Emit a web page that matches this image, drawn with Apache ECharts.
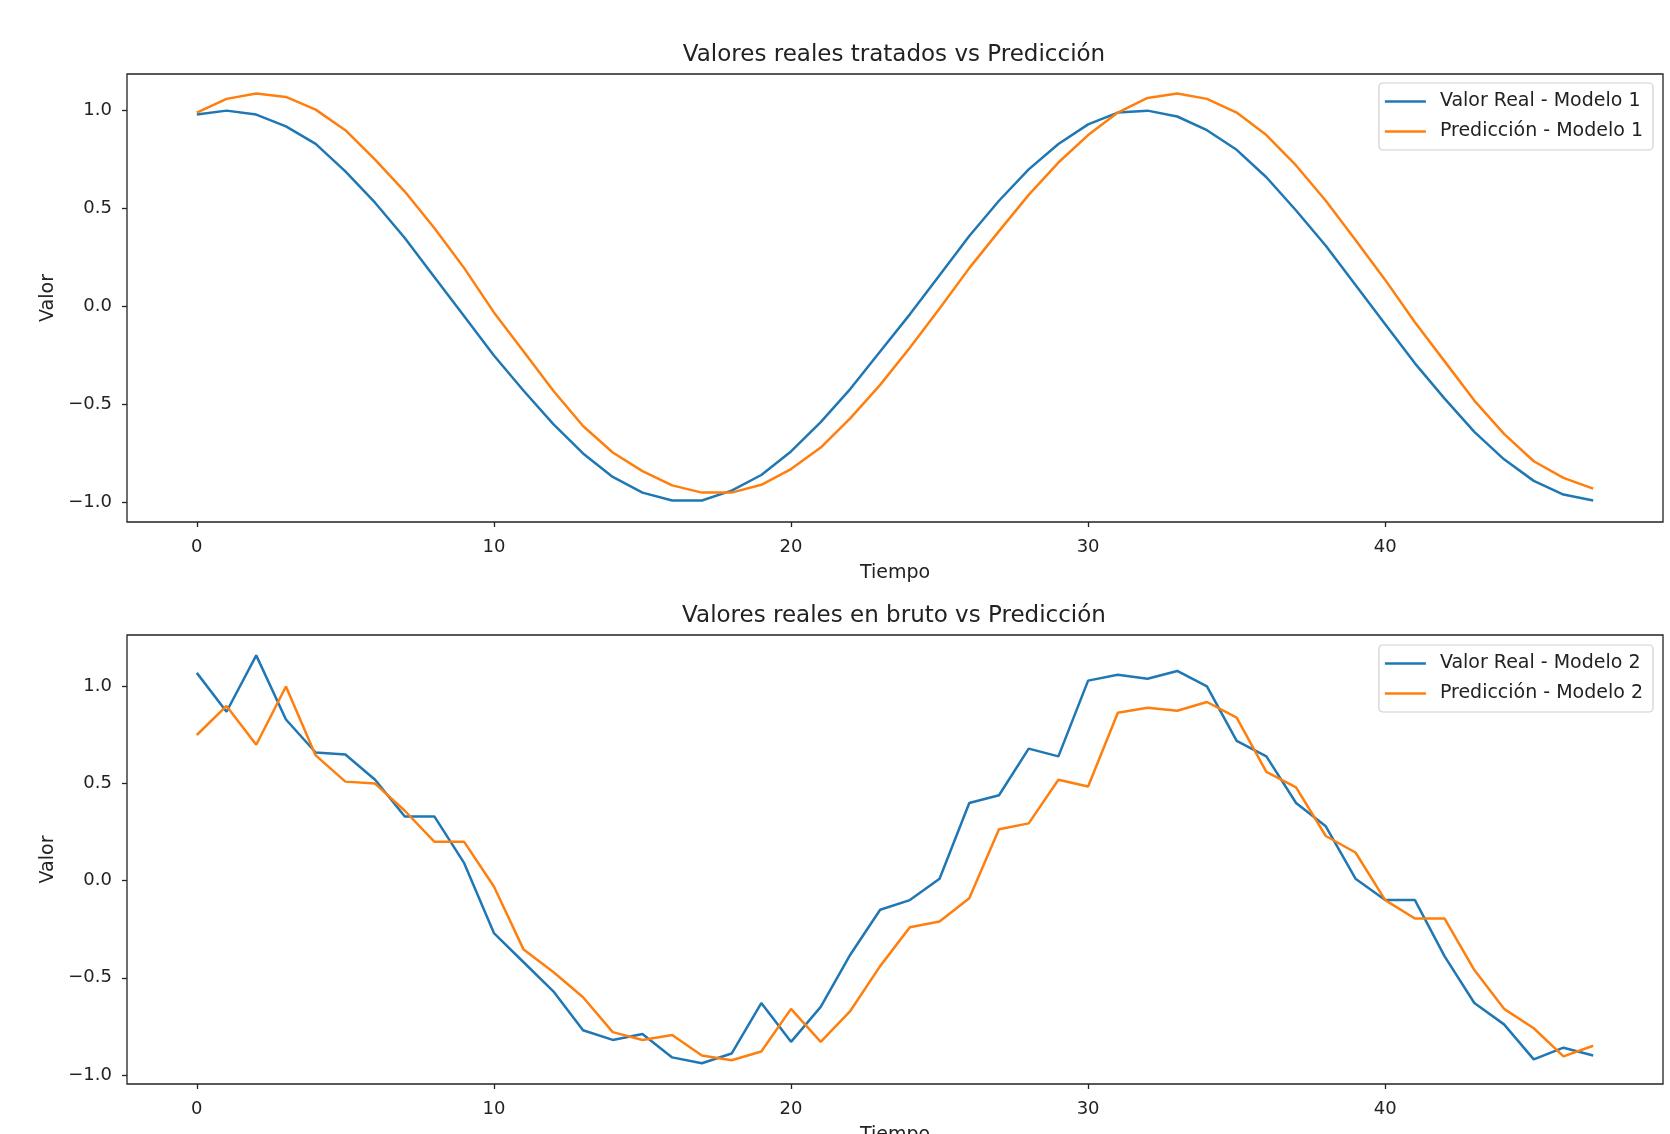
<!DOCTYPE html>
<html>
<head>
<meta charset="utf-8">
<script src="https://cdn.jsdelivr.net/npm/echarts@6/dist/echarts.min.js"></script>
<style>
  html, body { margin: 0; padding: 0; background: #fff; }
  #main { width: 1670px; height: 1134px; }
</style>
</head>
<body>
<div id="main"></div>
<script>
var myChart = echarts.init(document.getElementById('main'));

// eje x: pasos de tiempo 0..47
var tiempo = [];
for (var t = 0; t < 48; t++) tiempo.push(t);

// grafico 1: valores tratados
var realTratado = [0.98, 1.00, 0.98, 0.92, 0.83, 0.69, 0.53, 0.35, 0.15, -0.05,
    -0.25, -0.43, -0.60, -0.75, -0.87, -0.95, -0.99, -0.99, -0.94, -0.86,
    -0.74, -0.59, -0.42, -0.23, -0.04, 0.16, 0.36, 0.54, 0.70, 0.83,
    0.93, 0.99, 1.00, 0.97, 0.90, 0.80, 0.66, 0.49, 0.31, 0.11,
    -0.09, -0.29, -0.47, -0.64, -0.78, -0.89, -0.96, -0.99];
var predTratado = [0.99, 1.06, 1.087, 1.07, 1.005, 0.90, 0.75, 0.587, 0.40, 0.196,
    -0.03, -0.23, -0.43, -0.61, -0.745, -0.84, -0.913, -0.95, -0.95, -0.91,
    -0.83, -0.72, -0.57, -0.40, -0.21, -0.01, 0.196, 0.385, 0.57, 0.735,
    0.875, 0.99, 1.065, 1.087, 1.06, 0.99, 0.875, 0.72, 0.54, 0.34,
    0.136, -0.08, -0.28, -0.48, -0.65, -0.79, -0.875, -0.93];

// grafico 2: valores en bruto
var realBruto = [1.07, 0.87, 1.16, 0.83, 0.66, 0.65, 0.52, 0.33, 0.33, 0.09,
    -0.27, -0.42, -0.57, -0.77, -0.82, -0.79, -0.91, -0.94, -0.89, -0.63,
    -0.83, -0.65, -0.38, -0.15, -0.10, 0.01, 0.40, 0.44, 0.68, 0.64,
    1.03, 1.06, 1.04, 1.08, 1.00, 0.72, 0.64, 0.40, 0.28, 0.01,
    -0.10, -0.10, -0.39, -0.63, -0.74, -0.92, -0.86, -0.90];
var predBruto = [0.75, 0.90, 0.70, 1.00, 0.645, 0.51, 0.50, 0.36, 0.20, 0.20,
    -0.03, -0.355, -0.47, -0.60, -0.78, -0.82, -0.795, -0.90, -0.925, -0.88,
    -0.66, -0.83, -0.67, -0.44, -0.24, -0.21, -0.09, 0.265, 0.295, 0.52,
    0.485, 0.865, 0.89, 0.875, 0.92, 0.84, 0.56, 0.48, 0.23, 0.145,
    -0.10, -0.195, -0.195, -0.46, -0.66, -0.76, -0.905, -0.85];

var xTicks = [0, 10, 20, 30, 40];
var yTicks = [-1.0, -0.5, 0.0, 0.5, 1.0];

var FONT = 'DejaVu Sans';
var TXT = '#222';
var AZUL = '#1f77b4';
var NARANJA = '#ff7f0e';

function pares(ys) {
    return tiempo.map(function (x, i) { return [x, ys[i]]; });
}

function fmtY(v) {
    return (v < 0 ? '\u2212' : '') + Math.abs(v).toFixed(1);
}

function ejeX(idx) {
    return {
        type: 'value', gridIndex: idx, min: -2.35, max: 49.35,
        name: 'Tiempo', nameLocation: 'middle', nameGap: 42,
        nameTextStyle: { fontFamily: FONT, fontSize: 19, color: TXT },
        axisLine: { show: false, onZero: false },
        splitLine: { show: false },
        axisTick: { show: true, length: 5, customValues: xTicks, lineStyle: { color: TXT, width: 1.3 } },
        axisLabel: { customValues: xTicks, margin: 16, fontFamily: FONT, fontSize: 18, color: TXT }
    };
}

function ejeY(idx, mn, mx) {
    return {
        type: 'value', gridIndex: idx, min: mn, max: mx,
        name: 'Valor', nameLocation: 'middle', nameGap: 68, nameRotate: 90,
        nameTextStyle: { fontFamily: FONT, fontSize: 19, color: TXT },
        axisLine: { show: false, onZero: false },
        splitLine: { show: false },
        axisTick: { show: true, length: 5, customValues: yTicks, lineStyle: { color: TXT, width: 1.3 } },
        axisLabel: { customValues: yTicks, margin: 15, fontFamily: FONT, fontSize: 18, color: TXT, formatter: fmtY }
    };
}

function leyenda(top, nombres) {
    return {
        orient: 'vertical', right: 17, top: top,
        data: nombres.map(function (n) { return { name: n, icon: 'rect' }; }),
        itemWidth: 41, itemHeight: 2.6, itemGap: 9,
        padding: [8, 10, 8, 6],
        backgroundColor: '#fff', borderColor: '#d0d0d0', borderWidth: 1.2, borderRadius: 4,
        textStyle: { fontFamily: FONT, fontSize: 19, color: TXT, lineHeight: 21, padding: [0, 0, 0, 9] }
    };
}

function linea(nombre, idx, ys, color) {
    return {
        name: nombre, type: 'line', xAxisIndex: idx, yAxisIndex: idx,
        data: pares(ys), symbol: 'none', smooth: false,
        lineStyle: { color: color, width: 2.5 }, itemStyle: { color: color }
    };
}

var option = {
    animation: false,
    backgroundColor: '#fff',
    title: [
        { text: 'Valores reales tratados vs Predicción', left: 889, top: 39, textAlign: 'center',
          textStyle: { fontFamily: FONT, fontSize: 23, fontWeight: 'normal', color: TXT } },
        { text: 'Valores reales en bruto vs Predicción', left: 889, top: 600, textAlign: 'center',
          textStyle: { fontFamily: FONT, fontSize: 23, fontWeight: 'normal', color: TXT } }
    ],
    legend: [
        leyenda(83, ['Valor Real - Modelo 1', 'Predicción - Modelo 1']),
        leyenda(645, ['Valor Real - Modelo 2', 'Predicción - Modelo 2'])
    ],
    grid: [
        { left: 127, top: 74, width: 1536, height: 448, outerBoundsMode: 'none', containLabel: false,
          show: true, backgroundColor: '#fff', borderColor: TXT, borderWidth: 1.3 },
        { left: 127, top: 635, width: 1536, height: 449, outerBoundsMode: 'none', containLabel: false,
          show: true, backgroundColor: '#fff', borderColor: TXT, borderWidth: 1.3 }
    ],
    xAxis: [ejeX(0), ejeX(1)],
    yAxis: [ejeY(0, -1.1, 1.187), ejeY(1, -1.047, 1.265)],
    series: [
        linea('Valor Real - Modelo 1', 0, realTratado, AZUL),
        linea('Predicción - Modelo 1', 0, predTratado, NARANJA),
        linea('Valor Real - Modelo 2', 1, realBruto, AZUL),
        linea('Predicción - Modelo 2', 1, predBruto, NARANJA)
    ]
};

myChart.setOption(option);
</script>
</body>
</html>
